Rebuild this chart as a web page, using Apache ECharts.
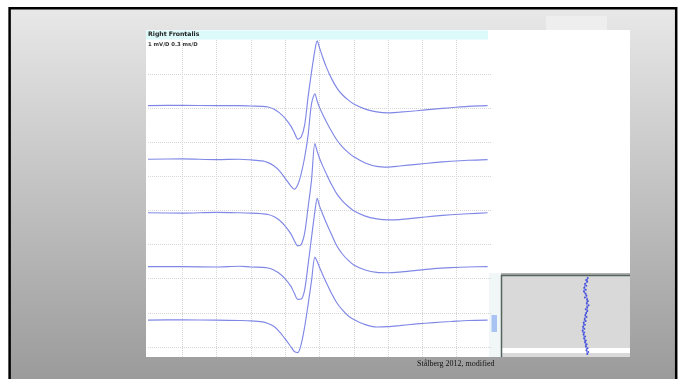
<!DOCTYPE html>
<html>
<head>
<meta charset="utf-8">
<script src="https://cdn.jsdelivr.net/npm/echarts@6/dist/echarts.min.js"></script>
<style>
html,body{margin:0;padding:0;background:#fff;}
#chart{width:683px;height:379px;}
</style>
</head>
<body>
<div id="chart"></div>
<script>
// Sweep time axis (ms), 0.3 ms per division
const timesMs = [0, 0.3, 0.6, 0.8, 0.9, 1.0, 1.05, 1.1, 1.15, 1.2, 1.25, 1.28, 1.31, 1.34, 1.37, 1.40, 1.43, 1.46, 1.48, 1.50, 1.53, 1.56, 1.60, 1.65, 1.70, 1.75, 1.80, 1.90, 2.00, 2.10, 2.20, 2.35, 2.50, 2.65, 2.80, 2.97];
// Potential amplitude (mV) relative to each sweep baseline
const trace1 = [0, 0.01, 0, 0, -0.01, -0.02, -0.04, -0.10, -0.21, -0.37, -0.60, -0.79, -0.98, -0.92, -0.57, 0.25, 0.98, 1.63, 1.90, 1.70, 1.40, 1.13, 0.83, 0.53, 0.32, 0.17, 0.05, -0.10, -0.18, -0.21, -0.19, -0.15, -0.10, -0.06, -0.02, 0];
const trace2 = [0, 0.01, -0.01, 0, -0.02, -0.05, -0.10, -0.19, -0.34, -0.56, -0.79, -0.88, -0.75, -0.42, 0.05, 0.70, 1.62, 1.92, 1.70, 1.52, 1.30, 1.10, 0.85, 0.57, 0.36, 0.20, 0.07, -0.11, -0.21, -0.23, -0.20, -0.15, -0.10, -0.06, -0.03, -0.01];
const trace3 = [0, -0.01, 0.01, 0, -0.01, -0.03, -0.05, -0.11, -0.22, -0.39, -0.62, -0.82, -0.97, -0.93, -0.60, 0.15, 0.95, 2.03, 1.80, 1.60, 1.36, 1.14, 0.86, 0.56, 0.35, 0.19, 0.06, -0.10, -0.18, -0.21, -0.20, -0.15, -0.10, -0.06, -0.03, 0];
const trace4 = [0, 0, -0.01, 0.01, -0.01, -0.02, -0.04, -0.10, -0.20, -0.36, -0.58, -0.78, -0.96, -0.95, -0.68, 0.05, 0.85, 1.62, 2.00, 1.78, 1.52, 1.28, 0.98, 0.62, 0.37, 0.19, 0.05, -0.10, -0.17, -0.18, -0.16, -0.11, -0.06, -0.03, -0.01, 0];
const trace5 = [0, 0.01, 0, -0.01, -0.02, -0.05, -0.10, -0.18, -0.34, -0.55, -0.78, -0.92, -0.95, -0.70, -0.20, 0.45, 1.15, 1.85, 1.72, 1.55, 1.32, 1.10, 0.82, 0.52, 0.30, 0.13, 0.02, -0.13, -0.20, -0.19, -0.16, -0.11, -0.07, -0.04, -0.01, 0];
const traces = [trace1, trace2, trace3, trace4, trace5];
// Raster display offsets of sweeps (mV)
const traceOffsetsMv = [7.37, 5.80, 4.23, 2.65, 1.08];
// Jitter inset: latency (µs) per consecutive discharge
const jitterLatencyUs = [672, 660, 668, 652, 661, 646, 657, 643, 655, 662, 650, 668, 673, 665, 679, 668, 657, 669, 660, 654, 663, 649, 656, 641, 650, 637, 646, 633, 645, 640, 652, 645, 658, 652, 664, 658, 671, 663, 676, 669];

const titleText = 'Right Frontalis';
const scaleText = '1 mV/D 0.3 ms/D';
const sourceText = 'Stålberg 2012, modified';

const chart = echarts.init(document.getElementById('chart'), null, {renderer: 'canvas'});

const gridLine = {show: true, showMinLine: false, showMaxLine: false, lineStyle: {color: '#d6d6d6', type: 'dotted', width: 1}};
const hidden = {axisLine: {show: false}, axisTick: {show: false}, axisLabel: {show: false}};

const series = traces.map((tr, k) => ({
  type: 'line',
  xAxisIndex: 1, yAxisIndex: 1,
  data: timesMs.map((t, i) => [t, tr[i] + traceOffsetsMv[k]]),
  showSymbol: false,
  smooth: 0.3,
  lineStyle: {color: '#8088e6', width: 1.15},
  silent: true
}));
series.push({
  type: 'line',
  xAxisIndex: 2, yAxisIndex: 2,
  data: jitterLatencyUs.map((v, i) => [v, i + 1]),
  symbol: 'circle', symbolSize: 2, showSymbol: true,
  itemStyle: {color: '#4450dc'},
  lineStyle: {color: '#5a64e2', width: 0.8},
  silent: true
});

const option = {
  animation: false,
  backgroundColor: '#ffffff',
  grid: [
    {left: 148, top: 40, width: 343, height: 317},
    {left: 148, top: 40, width: 343, height: 317},
    {left: 501, top: 276, width: 129, height: 80}
  ],
  xAxis: [
    Object.assign({gridIndex: 0, type: 'value', min: 0, max: 3, interval: 0.3, splitLine: gridLine}, hidden),
    {gridIndex: 1, type: 'value', min: 0, max: 3, show: false},
    {gridIndex: 2, type: 'value', min: 0, max: 1000, show: false}
  ],
  yAxis: [
    Object.assign({gridIndex: 0, type: 'value', inverse: true, min: 0, max: 9.296, interval: 1, splitLine: gridLine}, hidden),
    {gridIndex: 1, type: 'value', min: 0, max: 9.296, show: false},
    {gridIndex: 2, type: 'value', inverse: true, min: 0, max: 41, show: false}
  ],
  graphic: {elements: [
    {type: 'rect', z: -20, shape: {x: 9, y: 8, width: 668, height: 371},
      style: {fill: {type: 'linear', x: 0, y: 0, x2: 0, y2: 1, colorStops: [{offset: 0, color: '#e8e8e8'}, {offset: 1, color: '#9b9b9b'}]}}},
    {type: 'polyline', z: -19, shape: {points: [[9.6, 379], [9.6, 8.2], [676.2, 8.2], [676.2, 379]]},
      style: {stroke: '#000', lineWidth: 2.5, fill: null}},
    {type: 'rect', z: -19, shape: {x: 546, y: 16, width: 61, height: 15}, style: {fill: '#eeeeee'}},
    {type: 'rect', z: -18, shape: {x: 146, y: 30, width: 343, height: 327}, style: {fill: '#ffffff'}},
    {type: 'rect', z: -18, shape: {x: 489, y: 30, width: 141, height: 243}, style: {fill: '#ffffff'}},
    {type: 'rect', z: -18, shape: {x: 489, y: 273, width: 12, height: 84}, style: {fill: '#f1f7f7'}},
    {type: 'rect', z: -17, shape: {x: 491.5, y: 315, width: 5.5, height: 17}, style: {fill: '#a9c3f2'}},
    {type: 'rect', z: -17, shape: {x: 146, y: 30.5, width: 342, height: 9}, style: {fill: '#dcfafa'}},
    {type: 'rect', z: -17, shape: {x: 501, y: 275, width: 129, height: 82}, style: {fill: '#d9d9d9'}},
    {type: 'rect', z: -16, shape: {x: 502, y: 348, width: 128, height: 5}, style: {fill: '#ffffff'}},
    {type: 'polyline', z: -16, shape: {points: [[501.5, 357], [501.5, 275.5], [630, 275.5]]},
      style: {stroke: '#55645c', lineWidth: 1.5, fill: null}},
    {type: 'text', z: 10, style: {text: titleText, x: 148, y: 34.8, font: 'bold 6.2px "DejaVu Sans"', fill: '#222', textVerticalAlign: 'middle'}},
    {type: 'text', z: 10, style: {text: scaleText, x: 148, y: 45, font: 'bold 5.3px "DejaVu Sans"', fill: '#333', textVerticalAlign: 'middle'}},
    {type: 'text', z: 10, style: {text: sourceText, x: 455.8, y: 363.5, font: '8px "Liberation Serif"', fill: '#111', textAlign: 'center', textVerticalAlign: 'middle'}}
  ]},
  series: series
};
chart.setOption(option);
</script>
</body>
</html>
